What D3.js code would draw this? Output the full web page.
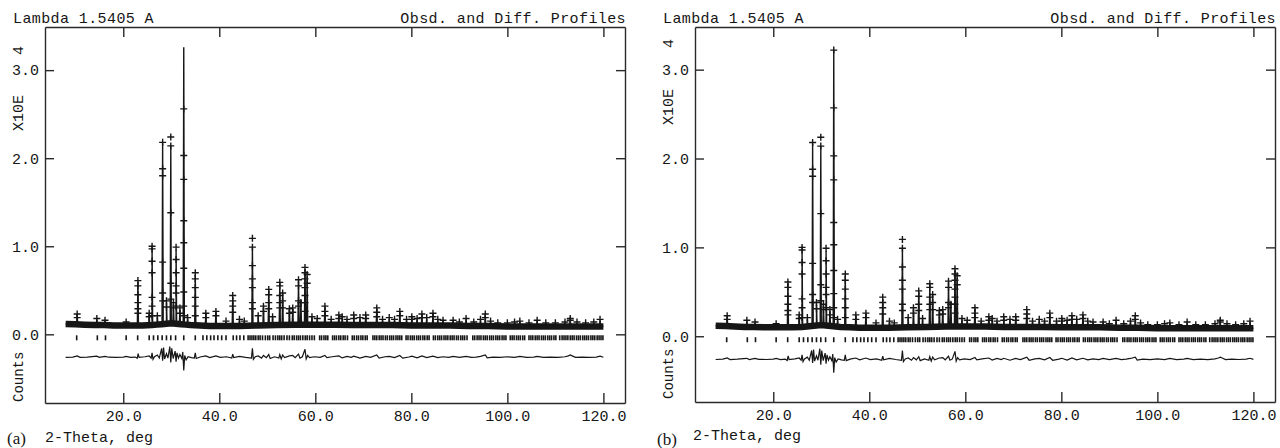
<!DOCTYPE html>
<html>
<head>
<meta charset="utf-8">
<script src="https://cdn.jsdelivr.net/npm/d3@7"></script>
<style>
  body { margin: 0; background: #fff; }
  svg { display: block; }
</style>
</head>
<body>
<div id="chart"></div>
<script>
// ---- data (2-theta in deg, counts in units of 1e4) ----
const xDomain = [3.7, 124.5];
const xTicks = [20, 40, 60, 80, 100, 120];
const yTicks = [0, 1, 2, 3];

// smooth level of the observed band
const background = [
  [8.0, 0.118], [10, 0.115], [12, 0.11], [14, 0.105], [16, 0.105], [18, 0.1], [20, 0.1],
  [22, 0.1], [24, 0.1], [26, 0.105], [27, 0.11], [28, 0.115], [29, 0.12], [30, 0.125],
  [31, 0.12], [32, 0.115], [33, 0.11], [34, 0.105], [36, 0.1], [38, 0.095], [40, 0.095],
  [44, 0.095], [48, 0.1], [52, 0.105], [56, 0.11], [60, 0.11], [64, 0.11], [68, 0.105],
  [72, 0.105], [76, 0.105], [80, 0.1], [84, 0.1], [88, 0.1], [92, 0.095], [96, 0.095],
  [100, 0.09], [104, 0.09], [108, 0.09], [112, 0.09], [116, 0.09], [120, 0.09]
];

// [position, calculated top, observed points on the peak]
const peaks = [
  [10.4, 0.22, [0.23, 0.19]], [14.5, 0.17, [0.18]], [16.2, 0.15, [0.16]], [20.6, 0.14, [0.14]],
  [23.05, 0.60, [0.61, 0.55, 0.45, 0.36, 0.29, 0.24]], [25.4, 0.22, [0.24, 0.2]],
  [26.0, 0.98, [1.0, 0.97, 0.83, 0.70, 0.42, 0.32, 0.21]], [27.1, 0.2, [0.21]],
  [28.2, 2.17, [2.18, 1.88, 1.80, 0.82, 0.47, 0.38]], [29.0, 0.36, [0.38, 0.31]],
  [29.9, 2.14, [2.24, 2.14, 1.38, 0.58, 0.40]], [30.45, 0.35, [0.36, 0.30]],
  [31.0, 0.96, [0.99, 0.85, 0.70, 0.55, 0.47, 0.32]], [31.8, 0.28, [0.30, 0.24]],
  [33.4, 0.18, [0.19]], [35.0, 0.68, [0.70, 0.63, 0.53, 0.42, 0.32, 0.21]],
  [37.2, 0.23, [0.24, 0.19]], [39.3, 0.25, [0.26, 0.21]], [41.4, 0.14, [0.15]],
  [42.8, 0.42, [0.44, 0.38, 0.32, 0.25]], [44.2, 0.16, [0.17]], [45.2, 0.14, [0.15]],
  [46.9, 0.99, [1.09, 0.99, 0.78, 0.63, 0.53, 0.36, 0.29]], [48.1, 0.2, [0.21]],
  [49.2, 0.31, [0.32, 0.26]], [50.3, 0.5, [0.51, 0.45, 0.36, 0.29]], [51.1, 0.19, [0.2]],
  [52.6, 0.58, [0.59, 0.55, 0.44, 0.36, 0.30]], [53.2, 0.47, [0.47, 0.38, 0.30]],
  [54.6, 0.28, [0.29, 0.24]], [55.3, 0.29, [0.30, 0.25]], [56.5, 0.61, [0.62, 0.55, 0.38, 0.32]],
  [57.0, 0.38, [0.36]], [57.85, 0.74, [0.76, 0.70, 0.63, 0.53, 0.44, 0.36, 0.26]],
  [58.3, 0.66, [0.68, 0.58]], [59.3, 0.19, [0.2]], [60.4, 0.17, [0.18]],
  [62.0, 0.31, [0.32, 0.26, 0.21]], [63.3, 0.16, [0.17]], [64.9, 0.21, [0.22, 0.18]],
  [65.6, 0.19, [0.2]], [66.6, 0.16, [0.17]], [68.0, 0.21, [0.22, 0.18]], [69.3, 0.18, [0.19]],
  [70.5, 0.21, [0.22, 0.18]], [72.8, 0.29, [0.30, 0.25, 0.2]], [74.0, 0.16, [0.17]],
  [75.4, 0.18, [0.19]], [76.5, 0.16, [0.17]], [77.6, 0.25, [0.26, 0.21]], [79.0, 0.16, [0.17]],
  [80.1, 0.19, [0.2, 0.17]], [81.2, 0.17, [0.18]], [82.2, 0.22, [0.23, 0.19]], [83.2, 0.18, [0.19]],
  [84.5, 0.23, [0.24, 0.2]], [85.5, 0.16, [0.17]], [86.6, 0.15, [0.16]], [88.7, 0.15, [0.16]],
  [90.0, 0.14, [0.14]], [91.4, 0.17, [0.18]], [93.0, 0.14, [0.14]], [94.4, 0.16, [0.17]],
  [95.4, 0.22, [0.23, 0.19]], [96.5, 0.15, [0.15]], [98.0, 0.13, [0.13]], [100.0, 0.13, [0.13]],
  [101.5, 0.13, [0.14]], [102.6, 0.15, [0.15]], [104.5, 0.13, [0.13]], [106.2, 0.15, [0.16]],
  [108.0, 0.12, [0.13]], [110.0, 0.12, [0.13]], [112.0, 0.14, [0.14]], [113.1, 0.17, [0.18, 0.16]],
  [114.5, 0.13, [0.14]], [116.3, 0.12, [0.13]], [118.0, 0.13, [0.14]], [119.3, 0.16, [0.17]]
];

// strongest reflection differs between the two refinements
const mainPeakA = [32.6, 3.26, [2.56, 2.03, 1.76, 1.29, 1.04, 0.75, 0.48, 0.32, 0.21]];
const mainPeakB = [32.6, 3.22, [3.22, 2.57, 2.03, 1.76, 1.28, 1.03, 0.74, 0.48, 0.32, 0.21]];

// reflection positions (tick row)
const reflections = [
  10.3, 14.6, 16.3, 20.6, 23.0, 25.4, 26.3, 27.2, 28.1, 29.0, 29.9, 30.9, 32.6, 35.0, 36.6,
  37.4, 38.2, 38.9, 39.7, 40.5, 41.4, 42.9, 43.6, 44.3, 45.1, 46.0, 46.4, 46.8, 47.2, 47.6,
  48.1, 48.5, 49.0, 49.6, 50.1, 50.5, 51.2, 51.7, 52.2, 52.6, 53.0, 53.5, 54.1, 54.6, 55.2,
  55.6, 56.1, 56.5, 56.9, 57.4, 57.9, 58.3, 58.8, 59.3, 59.8, 60.9, 61.3, 61.8, 62.2, 62.6,
  63.6, 64.0, 64.4, 64.9, 65.3, 65.8, 66.2, 66.7, 67.7, 68.1, 68.6, 69.0, 69.5, 69.9, 70.4,
  70.8, 72.0, 72.4, 72.8, 73.3, 73.7, 74.1, 74.6, 75.0, 75.5, 75.9, 76.3, 76.8, 77.2, 77.6,
  78.0, 78.9, 79.3, 79.8, 80.2, 80.6, 81.1, 81.5, 81.9, 82.4, 82.8, 83.3, 83.7, 84.6, 85.0,
  85.5, 85.9, 86.3, 86.8, 87.2, 87.6, 88.1, 88.5, 88.9, 89.4, 89.8, 90.3, 90.7, 91.1, 91.6,
  92.8, 93.2, 93.7, 94.1, 94.5, 95.0, 95.4, 95.8, 96.3, 96.7, 97.1, 97.6, 98.0, 98.4, 98.9,
  99.3, 99.7, 100.6, 101.0, 101.4, 101.9, 102.3, 102.7, 103.2, 103.6, 104.5, 104.9, 105.3,
  105.8, 106.2, 106.6, 107.1, 107.5, 107.9, 108.4, 108.8, 109.2, 109.7, 110.1, 110.9, 111.4,
  111.8, 112.2, 112.6, 113.1, 113.5, 113.9, 114.4, 114.8, 115.2, 115.7, 116.1, 116.5, 116.9,
  117.4, 117.8, 118.2, 118.7, 119.1, 119.5, 119.9
];

// difference profile (obs - calc, offset)
const diff = [
  [8.0, -0.262], [9.5, -0.258], [10.4, -0.245], [11.0, -0.262], [12.5, -0.258], [14.5, -0.248],
  [15.0, -0.262], [16.2, -0.25], [17.0, -0.26], [18.5, -0.262], [20.0, -0.258], [20.6, -0.25],
  [21.5, -0.262], [22.5, -0.258], [22.9, -0.272], [23.1, -0.22], [23.3, -0.262], [24.5, -0.255],
  [25.4, -0.245], [25.8, -0.27], [26.0, -0.21], [26.2, -0.285], [26.5, -0.255], [27.1, -0.235],
  [27.5, -0.27], [28.0, -0.16], [28.2, -0.3], [28.4, -0.15], [28.6, -0.28], [29.0, -0.22],
  [29.3, -0.27], [29.7, -0.14], [29.9, -0.32], [30.1, -0.16], [30.4, -0.275], [30.8, -0.19],
  [31.0, -0.31], [31.2, -0.21], [31.5, -0.27], [31.8, -0.23], [32.2, -0.275], [32.4, -0.2],
  [32.6, -0.41], [32.8, -0.24], [33.1, -0.29], [33.5, -0.255], [34.2, -0.265], [34.8, -0.27],
  [35.0, -0.21], [35.2, -0.275], [36.0, -0.258], [37.2, -0.245], [38.0, -0.265], [39.3, -0.245],
  [40.2, -0.262], [41.5, -0.255], [42.6, -0.27], [42.8, -0.225], [43.0, -0.265], [44.2, -0.25],
  [45.5, -0.262], [46.7, -0.27], [46.9, -0.16], [47.1, -0.285], [47.5, -0.255], [48.1, -0.245],
  [48.8, -0.27], [49.2, -0.24], [49.8, -0.265], [50.3, -0.23], [50.6, -0.275], [51.5, -0.255],
  [52.4, -0.27], [52.6, -0.23], [52.9, -0.28], [53.2, -0.235], [53.6, -0.265], [54.6, -0.245],
  [55.3, -0.24], [55.8, -0.265], [56.5, -0.225], [56.8, -0.27], [57.3, -0.255], [57.85, -0.17],
  [58.1, -0.28], [58.4, -0.24], [58.8, -0.265], [59.8, -0.255], [61.0, -0.262], [62.0, -0.24],
  [62.4, -0.265], [63.5, -0.255], [64.9, -0.245], [65.6, -0.268], [66.6, -0.25], [67.5, -0.262],
  [68.0, -0.248], [69.3, -0.27], [70.5, -0.25], [71.5, -0.262], [72.8, -0.235], [73.3, -0.27],
  [74.5, -0.255], [75.4, -0.25], [76.5, -0.265], [77.6, -0.24], [78.2, -0.27], [79.5, -0.258],
  [80.1, -0.248], [81.2, -0.268], [82.2, -0.245], [83.2, -0.265], [84.5, -0.248], [85.5, -0.265],
  [86.6, -0.255], [87.8, -0.262], [88.7, -0.25], [90.0, -0.262], [91.4, -0.25], [92.5, -0.262],
  [93.5, -0.258], [94.4, -0.25], [95.4, -0.235], [95.8, -0.268], [97.0, -0.258], [98.5, -0.262],
  [100.0, -0.255], [101.5, -0.262], [102.6, -0.25], [104.0, -0.262], [105.5, -0.258],
  [106.2, -0.25], [107.5, -0.262], [109.0, -0.258], [110.5, -0.262], [112.0, -0.255],
  [112.7, -0.245], [113.1, -0.235], [113.5, -0.245], [114.2, -0.262], [115.5, -0.258],
  [117.0, -0.262], [118.5, -0.258], [119.3, -0.248], [120.0, -0.26]
];

// ---- layout ----
const MONO = "'Liberation Mono', 'DejaVu Sans Mono', monospace";
const INK = "#161616";
const plotW = 580;

const panels = [
  {left: 45, top: 27, bottom: 403, yDom: [-0.78, 3.49], mainPeak: mainPeakA,
   tag: "(a)", tagX: 7, tagY: 444, thetaX: 45, thetaY: 442, expY: 55, x10eY: 131, countsY: 402},
  {left: 695, top: 27, bottom: 402, yDom: [-0.74, 3.48], mainPeak: mainPeakB,
   tag: "(b)", tagX: 657, tagY: 445, thetaX: 693, thetaY: 440, expY: 48, x10eY: 125, countsY: 399}
];

const svg = d3.select("#chart").append("svg")
  .attr("width", 1280)
  .attr("height", 448);

panels.forEach(p => drawPanel(p));

function drawPanel(cfg) {
  const right = cfg.left + plotW;
  const x = d3.scaleLinear().domain(xDomain).range([cfg.left, right]);
  const y = d3.scaleLinear().domain(cfg.yDom).range([cfg.bottom, cfg.top]);
  const g = svg.append("g");

  const allPeaks = peaks.concat([cfg.mainPeak]).sort((a, b) => a[0] - b[0]);

  // frame with inside ticks on all four sides
  const styleAxis = sel => {
    sel.selectAll("path, line").attr("stroke", "#2a2a2a").attr("stroke-width", 1.4);
    sel.attr("font-family", MONO).attr("font-size", 15);
    sel.selectAll("text").attr("fill", INK);
  };
  g.append("g").attr("transform", `translate(0,${cfg.bottom})`)
    .call(d3.axisBottom(x).tickValues(xTicks).tickSizeInner(-10).tickSizeOuter(0)
      .tickPadding(7).tickFormat(d3.format(".1f")))
    .call(styleAxis);
  g.append("g").attr("transform", `translate(0,${cfg.top})`)
    .call(d3.axisTop(x).tickValues(xTicks).tickSizeInner(-10).tickSizeOuter(0).tickFormat(""))
    .call(styleAxis);
  g.append("g").attr("transform", `translate(${cfg.left},0)`)
    .call(d3.axisLeft(y).tickValues(yTicks).tickSizeInner(-9).tickSizeOuter(0)
      .tickPadding(6).tickFormat(d3.format(".1f")))
    .call(styleAxis);
  g.append("g").attr("transform", `translate(${right},0)`)
    .call(d3.axisRight(y).tickValues(yTicks).tickSizeInner(-9).tickSizeOuter(0).tickFormat(""))
    .call(styleAxis);

  // observed band
  const line = d3.line().x(d => x(d[0])).y(d => y(d[1]));
  g.append("path")
    .datum(background)
    .attr("fill", "none")
    .attr("stroke", INK)
    .attr("stroke-width", 6.5)
    .attr("stroke-linejoin", "round")
    .attr("d", line);

  // calculated profile: background with narrow spikes
  const bg = d3.scaleLinear().domain(background.map(d => d[0])).range(background.map(d => d[1]));
  const halfBase = 0.12;
  const calcPts = background.map(d => [d[0], d[1]]);
  allPeaks.forEach(([t, h]) => {
    calcPts.push([t - halfBase, bg(t - halfBase)], [t, h], [t + halfBase, bg(t + halfBase)]);
  });
  calcPts.sort((a, b) => a[0] - b[0]);
  g.append("path")
    .datum(calcPts)
    .attr("fill", "none")
    .attr("stroke", INK)
    .attr("stroke-width", 1.4)
    .attr("d", line);

  // observed points as "+" marks
  const obsPts = [];
  allPeaks.forEach(([t, , obs]) => obs.forEach(v => obsPts.push([t, v])));
  g.append("g").selectAll("path")
    .data(obsPts)
    .join("path")
    .attr("transform", d => `translate(${x(d[0])},${y(d[1])})`)
    .attr("d", "M-3.5,0H3.5M0,-3.5V3.5")
    .attr("stroke", INK)
    .attr("stroke-width", 1.4)
    .attr("fill", "none");

  // reflection tick row
  const y0 = y(0);
  g.append("g").selectAll("line")
    .data(reflections)
    .join("line")
    .attr("x1", d => x(d)).attr("x2", d => x(d))
    .attr("y1", y0 + 1).attr("y2", y0 + 6)
    .attr("stroke", INK)
    .attr("stroke-width", 1.6);

  // difference curve
  g.append("path")
    .datum(diff)
    .attr("fill", "none")
    .attr("stroke", INK)
    .attr("stroke-width", 1.2)
    .attr("d", line);

  // texts
  const txt = (s, xPos, yPos, opts = {}) => g.append("text")
    .attr("x", xPos).attr("y", yPos)
    .attr("font-family", opts.family || MONO)
    .attr("font-size", opts.size || 15)
    .attr("letter-spacing", opts.ls || 0)
    .attr("text-anchor", opts.anchor || "start")
    .attr("fill", INK)
    .attr("transform", opts.transform || null)
    .text(s);

  txt("Lambda 1.5405 A", cfg.left - 32, 23, {ls: 0.4});
  txt("Obsd. and Diff. Profiles", right + 1, 23, {ls: 0.4, anchor: "end"});
  txt("2-Theta, deg", cfg.thetaX, cfg.thetaY);
  txt(cfg.tag, cfg.tagX, cfg.tagY, {family: "'Liberation Serif', 'Times New Roman', serif", size: 17});

  const lx = cfg.left - 22;
  txt("4", 0, 0, {transform: `translate(${lx},${cfg.expY}) rotate(-90)`});
  txt("X10E", 0, 0, {transform: `translate(${lx},${cfg.x10eY}) rotate(-90)`});
  txt("Counts", 0, 0, {size: 14, transform: `translate(${lx},${cfg.countsY}) rotate(-90)`});
}
</script>
</body>
</html>
